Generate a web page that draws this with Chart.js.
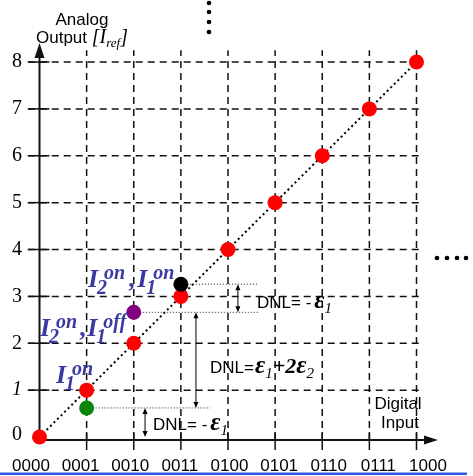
<!DOCTYPE html>
<html>
<head>
<meta charset="utf-8">
<script src="https://cdn.jsdelivr.net/npm/chart.js@4.4.0/dist/chart.umd.min.js"></script>
<style>
  html, body { margin: 0; padding: 0; background: #fff; }
  #wrap { width: 473px; height: 476px; }
</style>
</head>
<body>
<div id="wrap"><canvas id="dac-chart" width="473" height="476"></canvas></div>
<script>
// digital input codes (x axis)
const codes = ['0000', '0001', '0010', '0011', '0100', '0101', '0110', '0111', '1000'];
// analog output levels in I_ref (y axis)
const levels = [0, 1, 2, 3, 4, 5, 6, 7, 8];
// ideal transfer curve
const idealOut = [0, 1, 2, 3, 4, 5, 6, 7, 8];
// actual outputs with current source mismatch
const actualCode = [1, 2, 3];
const actualOut = [0.62, 2.66, 3.26];
const actualColor = ['#0a870a', '#800080', '#000000'];
// dotted guide lines: end of each guide (in codes)
const guideEnd = [3.62, 4.64, 4.64];
// DNL arrows: x position, from level, to level
const dnlX = [2.24, 3.32, 4.21];
const dnlFrom = [0, 0.62, 2.66];
const dnlTo = [0.62, 2.66, 3.26];

const SANS = '"Liberation Sans", Arial, sans-serif';
const SERIF = '"Liberation Serif", "Times New Roman", serif';
const LABEL_BLUE = '#3a3aa0';

// draws pieces of text one after another
const drawRuns = function(ctx, x, y, runs) {
  runs.forEach(function(r) {
    ctx.font = r.font;
    x += (r.pre || 0);
    ctx.fillText(r.text, x, y + (r.dy || 0));
    x += ctx.measureText(r.text).width;
  });
  return x;
};

// I with subscript and (slightly shifted) superscript
const drawCurrent = function(ctx, x, y, sub, sup) {
  ctx.font = 'italic bold 26px ' + SERIF;
  ctx.fillText('I', x, y);
  x += ctx.measureText('I').width;
  ctx.font = 'italic bold 20px ' + SERIF;
  ctx.fillText(sub, x - 1, y + 7);
  const w1 = ctx.measureText(sub).width - 1;
  ctx.fillText(sup, x + 6, y - 8);
  const w2 = ctx.measureText(sup).width + 6;
  return x + Math.max(w1, w2);
};

const arrowHead = function(ctx, x, y, dir, len, half) {
  ctx.beginPath();
  ctx.moveTo(x, y);
  ctx.lineTo(x - half, y - dir * len);
  ctx.lineTo(x + half, y - dir * len);
  ctx.closePath();
  ctx.fill();
};

const epsFont = 'italic bold 25px ' + SERIF;
const epsSub = 'italic 15px ' + SERIF;

const decor = {
  id: 'decor',
  beforeDatasetsDraw: function(chart) {
    const ctx = chart.ctx;
    const xs = chart.scales.x;
    const ys = chart.scales.y;
    const x0 = xs.getPixelForValue(0);
    const y0 = ys.getPixelForValue(0);
    const axisY = y0 + 3;

    ctx.save();
    ctx.strokeStyle = '#111';
    ctx.fillStyle = '#111';

    // dashed grid
    ctx.lineWidth = 1.5;
    ctx.setLineDash([7, 5]);
    levels.forEach(function(v) {
      if (v === 0) return;
      const y = ys.getPixelForValue(v);
      ctx.beginPath();
      ctx.moveTo(xs.getPixelForValue(-0.25), y);
      ctx.lineTo(xs.getPixelForValue(8.14), y);
      ctx.stroke();
    });
    codes.forEach(function(c, i) {
      if (i === 0) return;
      const x = xs.getPixelForValue(i);
      ctx.beginPath();
      ctx.moveTo(x, axisY);
      ctx.lineTo(x, ys.getPixelForValue(8.25));
      ctx.stroke();
    });
    ctx.setLineDash([]);

    // tick marks
    levels.forEach(function(v) {
      if (v === 0) return;
      const y = ys.getPixelForValue(v);
      ctx.beginPath();
      ctx.moveTo(x0 - 11, y);
      ctx.lineTo(x0 + 10, y);
      ctx.stroke();
    });
    codes.forEach(function(c, i) {
      if (i === 0) return;
      const x = xs.getPixelForValue(i);
      ctx.beginPath();
      ctx.moveTo(x, axisY - 8);
      ctx.lineTo(x, axisY + 10);
      ctx.stroke();
    });

    // axes with arrows
    ctx.lineWidth = 2;
    ctx.beginPath();
    ctx.moveTo(x0, axisY);
    ctx.lineTo(x0, 56);
    ctx.stroke();
    arrowHead(ctx, x0, 43, -1, 15, 5);
    ctx.beginPath();
    ctx.moveTo(x0, axisY);
    ctx.lineTo(426, axisY);
    ctx.stroke();
    ctx.beginPath();
    ctx.moveTo(438, axisY);
    ctx.lineTo(424, axisY - 4.5);
    ctx.lineTo(424, axisY + 4.5);
    ctx.closePath();
    ctx.fill();

    // y tick labels
    ctx.fillStyle = '#000';
    ctx.textAlign = 'right';
    ctx.textBaseline = 'middle';
    levels.forEach(function(v) {
      ctx.font = (v === 1 ? 'italic ' : '') + '20px ' + SERIF;
      ctx.fillText(String(v), 22, ys.getPixelForValue(v) - (v === 0 ? 2 : 0));
    });

    // x tick labels (spread a bit wider than the grid)
    ctx.textAlign = 'center';
    ctx.textBaseline = 'alphabetic';
    ctx.font = '17px ' + SANS;
    const lx0 = x0 - 8.5;
    const lx8 = xs.getPixelForValue(8) + 11.5;
    codes.forEach(function(c, i) {
      ctx.fillText(c, lx0 + i * (lx8 - lx0) / 8, 471);
    });

    // axis titles
    ctx.fillText('Analog', 82, 25);
    ctx.textAlign = 'left';
    drawRuns(ctx, 36, 43, [
      { text: 'Output ', font: '17px ' + SANS },
      { text: '[I', font: 'italic 20px ' + SERIF },
      { text: 'ref', font: 'italic 13px ' + SERIF, dy: 4 },
      { text: ']', font: 'italic 20px ' + SERIF }
    ]);
    ctx.textAlign = 'center';
    ctx.font = '17px ' + SANS;
    ctx.fillText('Digital', 398, 409);
    ctx.fillText('Input', 400, 428);

    // bottom blue rule
    ctx.fillStyle = '#3355ee';
    ctx.fillRect(0, 472.5, 467, 2.5);

    ctx.restore();
  },
  afterDatasetsDraw: function(chart) {
    const ctx = chart.ctx;
    const xs = chart.scales.x;
    const ys = chart.scales.y;
    ctx.save();

    // DNL arrows
    ctx.strokeStyle = '#000';
    ctx.fillStyle = '#000';
    ctx.lineWidth = 1;
    dnlX.forEach(function(v, i) {
      const x = xs.getPixelForValue(v);
      const yb = ys.getPixelForValue(dnlFrom[i]);
      const yt = ys.getPixelForValue(dnlTo[i]);
      ctx.beginPath();
      ctx.moveTo(x, yb - 2);
      ctx.lineTo(x, yt + 2);
      ctx.stroke();
      arrowHead(ctx, x, yt, -1, 6, 2.5);
      arrowHead(ctx, x, yb, 1, 6, 2.5);
    });

    // DNL texts
    ctx.textAlign = 'left';
    ctx.textBaseline = 'alphabetic';
    const dnlFont = '17px ' + SANS;
    drawRuns(ctx, 257, 308, [
      { text: 'DNL= -', font: dnlFont },
      { text: 'ε', font: epsFont, pre: 3 },
      { text: '1', font: epsSub, dy: 5 }
    ]);
    drawRuns(ctx, 210, 373, [
      { text: 'DNL=', font: dnlFont },
      { text: 'ε', font: epsFont, pre: 1 },
      { text: '1', font: epsSub, dy: 5 },
      { text: '+2', font: 'italic bold 22px ' + SERIF },
      { text: 'ε', font: epsFont },
      { text: '2', font: epsSub, dy: 5 }
    ]);
    drawRuns(ctx, 153, 430, [
      { text: 'DNL= -', font: dnlFont },
      { text: 'ε', font: epsFont, pre: 3 },
      { text: '1', font: epsSub, dy: 5 }
    ]);

    // current source labels
    ctx.fillStyle = LABEL_BLUE;
    drawCurrent(ctx, 56, 383, '1', 'on');
    let x = drawCurrent(ctx, 40, 336, '2', 'on');
    ctx.font = 'italic bold 26px ' + SERIF;
    ctx.fillText(',', x + 3, 336);
    drawCurrent(ctx, x + 10, 336, '1', 'off');
    x = drawCurrent(ctx, 88, 287, '2', 'on');
    ctx.font = 'italic bold 26px ' + SERIF;
    ctx.fillText(',', x + 4, 287);
    drawCurrent(ctx, x + 12, 287, '1', 'on');

    // ellipsis dots
    ctx.fillStyle = '#000';
    [3, 12, 22, 32].forEach(function(y) {
      ctx.beginPath();
      ctx.arc(209, y, 2.3, 0, Math.PI * 2);
      ctx.fill();
    });
    [437, 447, 457, 466].forEach(function(xx) {
      ctx.beginPath();
      ctx.arc(xx, 258, 2.3, 0, Math.PI * 2);
      ctx.fill();
    });

    ctx.restore();
  }
};

const pointSet = function(pts, color, order) {
  return {
    type: 'scatter',
    data: pts,
    backgroundColor: color,
    borderColor: color,
    pointRadius: 7.5,
    borderWidth: 0,
    clip: false,
    order: order
  };
};

const datasets = [];
actualCode.forEach(function(c, i) {
  datasets.push(pointSet([{ x: c, y: actualOut[i] }], actualColor[i], 2 - i));
});
datasets.push(pointSet(idealOut.map(function(v, i) { return { x: i, y: v }; }), '#ff0000', 3));
datasets.push({
  type: 'line',
  data: idealOut.map(function(v, i) { return { x: i, y: v }; }),
  borderColor: '#000',
  borderWidth: 2,
  borderDash: [2, 3],
  pointRadius: 0,
  fill: false,
  clip: false,
  order: 4
});
actualCode.forEach(function(c, i) {
  datasets.push({
    type: 'line',
    data: [{ x: c, y: actualOut[i] }, { x: guideEnd[i], y: actualOut[i] }],
    borderColor: '#222',
    borderWidth: 1,
    borderDash: [1, 2],
    pointRadius: 0,
    fill: false,
    clip: false,
    order: 5
  });
});

new Chart(document.getElementById('dac-chart'), {
  type: 'scatter',
  data: { datasets: datasets },
  options: {
    responsive: false,
    animation: false,
    devicePixelRatio: 1,
    layout: { padding: { left: 39.5, right: 56.5, top: 62, bottom: 39 } },
    scales: {
      x: { type: 'linear', min: 0, max: 8, display: false },
      y: { type: 'linear', min: 0, max: 8, display: false }
    },
    plugins: {
      legend: { display: false },
      tooltip: { enabled: false }
    }
  },
  plugins: [decor]
});
</script>
</body>
</html>
